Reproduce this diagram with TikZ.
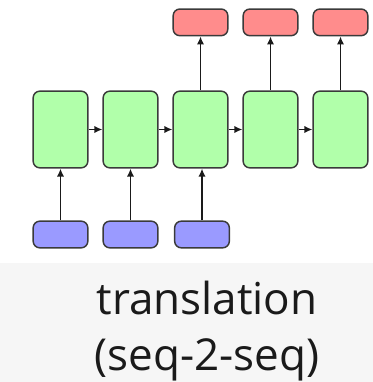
\documentclass[tikz,border=0pt]{standalone}
\usepackage{fontspec}
\setmainfont{Open Sans}
\usetikzlibrary{positioning,arrows.meta}
\definecolor{ink}{HTML}{1A1A1A}
\definecolor{rim}{HTML}{3A3A3A}
\definecolor{cellg}{HTML}{B1FFAA}
\definecolor{cellr}{HTML}{FF8C8C}
\definecolor{cellb}{HTML}{9A9AFF}
\definecolor{band}{HTML}{F6F6F6}
\tikzset{
  flow/.style={-{Latex[length=6pt,width=5.5pt]}, line width=1.2pt, color=ink},
  cell/.style={rounded corners=5pt, draw=rim, fill=#1, line width=1.1pt,
    minimum width=41pt, inner sep=0pt},
  hid/.style={cell=cellg, minimum height=57.5pt},
  outc/.style={cell=cellr, minimum height=20pt},
  inc/.style={cell=cellb, minimum height=20pt},
  captxt/.style={font=\fontsize{33}{40}\selectfont, text=ink, anchor=base},
}
\begin{document}
\begin{tikzpicture}[x=0.75pt,y=0.75pt]
  \useasboundingbox (0,0) rectangle (373,382);
  \fill[band] (0,0) rectangle (373,119);
  % recurrent cells
  \foreach \i in {1,...,5} {
    \node[hid] (h\i) at (60.5+70*\i-70,252.5) {};
  }
  \foreach \i [remember=\i as \j (initially 1)] in {2,...,5} {
    \draw[flow] (h\j) -- (h\i);
  }
  % inputs
  \foreach \i/\xx in {1/60.5, 2/130.5, 3/202} {
    \node[inc] (x\i) at (\xx,147.5) {};
    \draw[flow] (x\i.north) -- (x\i.north |- h\i.south);
  }
  % outputs
  \foreach \i in {3,4,5} {
    \node[outc, above=40.5pt of h\i] (y\i) {};
    \draw[flow] (h\i) -- (y\i);
  }
  \node[captxt] (lbl1) at (207,67) {translation};
  \node[captxt] (lbl2) at (207,12) {(seq-2-seq)};
\end{tikzpicture}
\end{document}
